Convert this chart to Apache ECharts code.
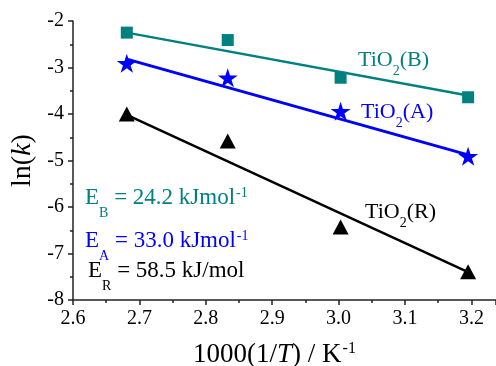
<!DOCTYPE html>
<html>
<head>
<meta charset="utf-8">
<script src="https://cdn.jsdelivr.net/npm/echarts@6/dist/echarts.min.js"></script>
<style>
  html, body { margin: 0; padding: 0; background: #fff; }
  #chart { width: 496px; height: 366px; }
</style>
</head>
<body>
<div id="chart"></div>
<script>
// 1000/T, K^-1
var invT = [2.681, 2.833, 3.003, 3.195];
// ln(k) for each phase
var lnkB = [-2.25, -2.41, -3.22, -3.64];
var lnkA = [-2.91, -3.22, -3.94, -4.91];
var lnkR = [-4.00, -4.58, -6.43, -7.39];
// fitted lines, end points
var fitX = [2.681, 3.195];
var fitB = [-2.25, -3.60];
var fitA = [-2.82, -4.88];
var fitR = [-4.02, -7.40];

var teal = '#008080';
var blue = '#0000ff';
var black = '#000000';
var serif = 'Liberation Serif';

var starPath = 'path://M50,0 L61.2,34.5 L97.6,34.5 L68.2,55.9 L79.4,90.5 L50,69.1 L20.6,90.5 L31.8,55.9 L2.4,34.5 L38.8,34.5 Z';

function pairs(xs, ys) {
  return xs.map(function (x, i) { return [x, ys[i]]; });
}

// rich styles for sub / superscripts
function richFor(color, size, subDrop) {
  return {
    m: { fontFamily: serif, fontSize: size, lineHeight: size, fill: color, verticalAlign: 'top' },
    s: { fontFamily: serif, fontSize: 14, lineHeight: 14, fill: color, verticalAlign: 'top', padding: [subDrop, 0, 0, 0] },
    p: { fontFamily: serif, fontSize: 14, lineHeight: 14, fill: color, verticalAlign: 'top', padding: [0, 0, 0, 1] }
  };
}

function note(text, color, size, subDrop, left, top) {
  return {
    type: 'text',
    left: left,
    top: top,
    z: 100,
    style: { text: text, rich: richFor(color, size, subDrop), fill: color, fontFamily: serif, fontSize: size }
  };
}

var chart = echarts.init(document.getElementById('chart'), null, { renderer: 'canvas' });

var axisCommon = {
  axisLine: { show: true, lineStyle: { color: '#222', width: 1.5 } },
  axisTick: { show: true, inside: false, length: 5, lineStyle: { color: '#222', width: 1.5 } },
  minorTick: { show: true, splitNumber: 2, length: 3, lineStyle: { color: '#222', width: 1.5 } },
  splitLine: { show: false },
  minorSplitLine: { show: false }
};

var option = {
  animation: false,
  backgroundColor: '#fff',
  textStyle: { fontFamily: serif },
  grid: { left: 73, right: 0, top: 21, bottom: 66, containLabel: false, outerBoundsMode: 'none' },
  xAxis: Object.assign({}, axisCommon, {
    type: 'value',
    min: 2.6,
    max: 3.237,
    interval: 0.1,
    axisLabel: {
      fontFamily: serif, fontSize: 20, color: '#000', margin: 9,
      showMaxLabel: false,
      formatter: function (v) { return v.toFixed(1); }
    },
    name: '{m|1000(1/}{i|T}{m|) / K}{p|-1}',
    nameLocation: 'middle',
    nameGap: 41,
    nameTextStyle: {
      padding: [0, 20, 0, 0],
      rich: {
        m: { fontFamily: serif, fontSize: 27, lineHeight: 27, color: '#000', verticalAlign: 'top' },
        i: { fontFamily: serif, fontSize: 27, lineHeight: 27, fontStyle: 'italic', color: '#000', verticalAlign: 'top' },
        p: { fontFamily: serif, fontSize: 16, lineHeight: 16, color: '#000', verticalAlign: 'top', padding: [0, 0, 0, 1] }
      }
    }
  }),
  yAxis: Object.assign({}, axisCommon, {
    type: 'value',
    min: -8,
    max: -2,
    interval: 1,
    axisLabel: { fontFamily: serif, fontSize: 20, color: '#000', margin: 9 },
    name: '{m|ln(}{i|k}{m|)}',
    nameLocation: 'middle',
    nameRotate: 90,
    nameGap: 20,
    nameTextStyle: {
      rich: {
        m: { fontFamily: serif, fontSize: 28, lineHeight: 28, color: '#000' },
        i: { fontFamily: serif, fontSize: 28, lineHeight: 28, fontStyle: 'italic', color: '#000' }
      }
    }
  }),
  series: [
    { name: 'fitB', type: 'line', data: pairs(fitX, fitB), showSymbol: false, lineStyle: { color: teal, width: 2.5 }, z: 2 },
    { name: 'fitA', type: 'line', data: pairs(fitX, fitA), showSymbol: false, lineStyle: { color: blue, width: 3 }, z: 2 },
    { name: 'fitR', type: 'line', data: pairs(fitX, fitR), showSymbol: false, lineStyle: { color: black, width: 2.5 }, z: 2 },
    { name: 'TiO2(B)', type: 'scatter', data: pairs(invT, lnkB), symbol: 'rect', symbolSize: 12, itemStyle: { color: teal, opacity: 1 }, z: 3 },
    { name: 'TiO2(A)', type: 'scatter', data: pairs(invT, lnkA), symbol: starPath, symbolKeepAspect: true, symbolSize: 20, itemStyle: { color: blue, opacity: 1 }, z: 3 },
    { name: 'TiO2(R)', type: 'scatter', data: pairs(invT, lnkR), symbol: 'triangle', symbolSize: [16, 15], itemStyle: { color: black, opacity: 1 }, z: 3 }
  ],
  graphic: [
    note('{m|TiO}{s|2}{m|(B)}', teal, 22, 15, 358, 49),
    note('{m|TiO}{s|2}{m|(A)}', blue, 22, 15, 361, 101),
    note('{m|TiO}{s|2}{m|(R)}', black, 22, 15, 365, 201),
    note('{m|E}{s|B}{m| = 24.2 kJmol}{p|-1}', teal, 23, 20, 85, 186),
    note('{m|E}{s|A}{m| = 33.0 kJmol}{p|-1}', blue, 23, 20, 85, 229),
    note('{m|E}{s|R}{m| = 58.5 kJ/mol}', black, 23, 20, 88, 259)
  ]
};

chart.setOption(option);
</script>
</body>
</html>
